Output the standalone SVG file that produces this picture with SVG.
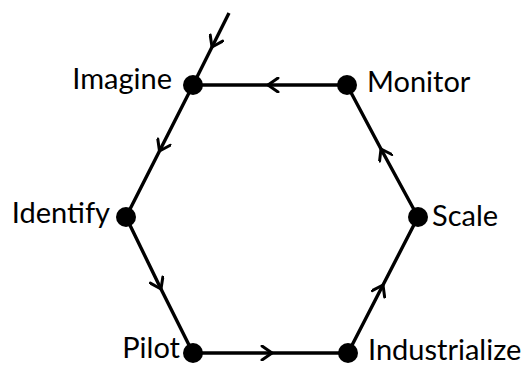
<svg xmlns="http://www.w3.org/2000/svg" width="526" height="368" viewBox="0 0 526 368">
<defs>
<marker id="chev" viewBox="-12 -8 14 16" markerWidth="14" markerHeight="16" refX="0" refY="0" orient="auto" markerUnits="userSpaceOnUse">
<path d="M-10,-7 L0,0 L-10,7" fill="none" stroke="#000" stroke-width="3" stroke-linecap="round" stroke-linejoin="round"/>
</marker>
</defs>
<style>
.e{fill:none;stroke:#000;stroke-width:3.4;marker-mid:url(#chev)}
.d{fill:#000}
.t{font-family:Lato,"Open Sans",sans-serif;font-size:29px;fill:#000}
</style>
<rect width="526" height="368" fill="#fff"/>
<g id="connectors">
<polyline class="e" points="229,13 212,47 193,85"/>
<polyline class="e" points="193,85 159.5,151 126,217"/>
<polyline class="e" points="126,217 161,289 193,353"/>
<polyline class="e" points="193,353 272,353 348,353"/>
<polyline class="e" points="348,353 383,285 418,217"/>
<polyline class="e" points="418,217 381,149 347,85"/>
<polyline class="e" points="347,85 268,85 193,85"/>
</g>
<g id="imagine"><circle class="d" cx="193" cy="85" r="10"/><text class="t" x="172" y="89" text-anchor="end">Imagine</text></g>
<g id="monitor"><circle class="d" cx="347" cy="85" r="10"/><text class="t" x="367" y="92">Monitor</text></g>
<g id="scale"><circle class="d" cx="418" cy="217" r="10"/><text class="t" x="432" y="226">Scale</text></g>
<g id="industrialize"><circle class="d" cx="348" cy="353" r="10"/><text class="t" x="368" y="360">Industrialize</text></g>
<g id="pilot"><circle class="d" cx="193" cy="353" r="10"/><text class="t" x="180" y="358" text-anchor="end">Pilot</text></g>
<g id="identify"><circle class="d" cx="126" cy="217" r="10"/><text class="t" x="110" y="223" text-anchor="end">Identify</text></g>
</svg>
